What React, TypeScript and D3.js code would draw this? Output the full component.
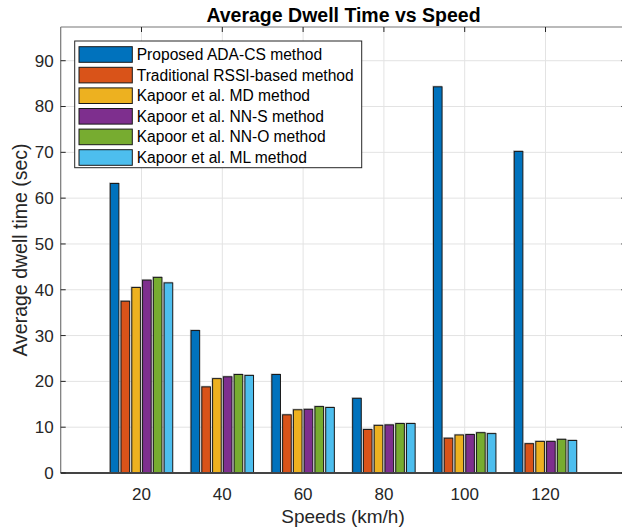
import React from "react";
import * as d3 from "d3";

const categories = ["20", "40", "60", "80", "100", "120"];
const seriesNames = [
  "Proposed ADA-CS method",
  "Traditional RSSI-based method",
  "Kapoor et al. MD method",
  "Kapoor et al. NN-S method",
  "Kapoor et al. NN-O method",
  "Kapoor et al. ML method",
];
const adaCs = [63.2, 31.1, 21.5, 16.3, 84.3, 70.2];
const rssi = [37.5, 18.8, 12.7, 9.5, 7.6, 6.4];
const kapoorMD = [40.5, 20.6, 13.8, 10.4, 8.3, 6.9];
const kapoorNNS = [42.1, 21.0, 13.9, 10.5, 8.4, 6.9];
const kapoorNNO = [42.7, 21.5, 14.5, 10.8, 8.8, 7.35];
const kapoorML = [41.5, 21.3, 14.3, 10.8, 8.6, 7.1];
const seriesValues = [adaCs, rssi, kapoorMD, kapoorNNS, kapoorNNO, kapoorML];
const colors = ["#0072BD", "#D95319", "#EDB120", "#7E2F8E", "#77AC30", "#4DBEEE"];
const yTicks = [0, 10, 20, 30, 40, 50, 60, 70, 80, 90];

export default function App() {
  const W = 622, H = 530;
  const left = 60.7, right = 626.3, top = 27, bottom = 473;
  const font = "'Liberation Sans', Arial, Helvetica, sans-serif";

  const x = d3.scaleLinear().domain([0, 7]).range([left, right]);
  const y = d3.scaleLinear().domain([0, 97.36]).range([bottom, top]);
  const nS = seriesNames.length;
  const groupW = 0.8;
  const step = groupW / nS;
  const barW = step * 0.8;

  const legendX = 74.7, legendY = 41, legendW = 287, legendH = 126.7;

  return (
    <svg width={W} height={H} style={{ display: "block", position: "absolute", left: 0, top: 0 }}>
      <rect x={0} y={0} width={W} height={H} fill="#fff" />
      <defs>
        <clipPath id="plot">
          <rect x={left} y={top} width={right - left} height={bottom - top} />
        </clipPath>
      </defs>
      {/* grid */}
      <g clipPath="url(#plot)">
        {yTicks.map((t) => (
          <line key={"gy" + t} x1={left} x2={right} y1={y(t)} y2={y(t)} stroke="#e3e3e3" strokeWidth={1} />
        ))}
        {categories.map((c, i) => (
          <line key={"gx" + c} x1={x(i + 1)} x2={x(i + 1)} y1={top} y2={bottom} stroke="#e3e3e3" strokeWidth={1} />
        ))}
      </g>
      {/* bars */}
      <g>
        {seriesValues.map((vals, s) =>
          vals.map((v, i) => {
            const cx = x(i + 1) + (-groupW / 2 + step * (s + 0.5)) * (x(1) - x(0));
            const bw = barW * (x(1) - x(0));
            return (
              <g key={s + "-" + i}>
                <rect x={cx - bw / 2 - 1.2} y={y(v) - 1.2} width={bw + 1.2} height={bottom - y(v) + 1.2} fill="#999" opacity={0.55} />
                <rect x={cx - bw / 2} y={y(v)} width={bw} height={bottom - y(v)} fill={colors[s]} stroke="#1a1a1a" strokeWidth={1} />
              </g>
            );
          })
        )}
      </g>
      {/* axes */}
      <line x1={left} x2={left} y1={top} y2={bottom} stroke="#777" strokeWidth={1.2} />
      <line x1={left} x2={right} y1={top} y2={top} stroke="#777" strokeWidth={1.2} />
      <line x1={right} x2={right} y1={top} y2={bottom} stroke="#777" strokeWidth={1.2} />
      <line x1={left} x2={right} y1={bottom} y2={bottom} stroke="#444" strokeWidth={2.2} />
      {yTicks.map((t) => (
        <g key={"ty" + t}>
          <line x1={left} x2={left + 5} y1={y(t)} y2={y(t)} stroke="#262626" />
          <line x1={right - 5} x2={right} y1={y(t)} y2={y(t)} stroke="#262626" />
          <text x={left - 7} y={y(t)} dy="0.35em" textAnchor="end" fontFamily={font} fontSize={17} fill="#262626">
            {t}
          </text>
        </g>
      ))}
      {categories.map((c, i) => (
        <g key={"tx" + c}>
          <line x1={x(i + 1)} x2={x(i + 1)} y1={top} y2={top + 5} stroke="#262626" />
          <text x={x(i + 1)} y={494} dy="0.35em" textAnchor="middle" fontFamily={font} fontSize={17} fill="#262626">
            {c}
          </text>
        </g>
      ))}
      {/* labels */}
      <text x={(left + right) / 2} y={15} dy="0.35em" textAnchor="middle" fontFamily={font} fontSize={19.5} fontWeight="bold" fill="#000">
        Average Dwell Time vs Speed
      </text>
      <text x={343} y={516} dy="0.35em" textAnchor="middle" fontFamily={font} fontSize={19} fill="#262626">
        Speeds (km/h)
      </text>
      <text transform={`translate(20,250) rotate(-90)`} dy="0.35em" textAnchor="middle" fontFamily={font} fontSize={19.5} fill="#262626">
        Average dwell time (sec)
      </text>
      {/* legend */}
      <rect x={legendX} y={legendY} width={legendW} height={legendH} fill="#fff" stroke="#262626" strokeWidth={1} />
      {seriesNames.map((n, s) => (
        <g key={"lg" + s}>
          <rect x={79} y={46.7 + s * 20.6} width={53.3} height={15.6} fill={colors[s]} stroke="#1a1a1a" strokeWidth={1} />
          <text x={136.7} y={54.5 + s * 20.6} dy="0.35em" fontFamily={font} fontSize={15.6} fill="#000">
            {n}
          </text>
        </g>
      ))}
    </svg>
  );
}
